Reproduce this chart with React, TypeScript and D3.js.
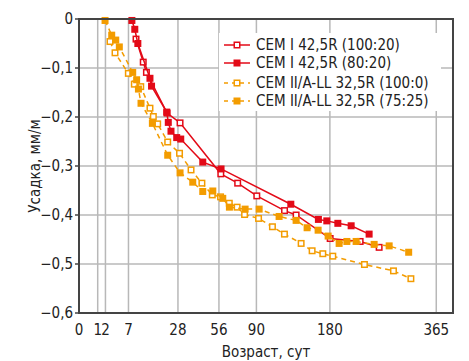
import React from "react";
import * as d3 from "d3";

const xTicks = [0, 1, 2, 7, 28, 56, 90, 180, 365];
const xGrid = [1, 2, 7, 28, 56, 90, 180, 365];
const yTicks = [0, -0.1, -0.2, -0.3, -0.4, -0.5, -0.6];

const names = [
  "CEM I 42,5R (100:20)",
  "CEM I 42,5R (80:20)",
  "CEM II/A-LL 32,5R (100:0)",
  "CEM II/A-LL 32,5R (75:25)",
];

// [days, shrinkage]
const cemI_100_20: [number, number][] = [
  [9.3, -0.041], [11.8, -0.088], [13.0, -0.109], [22.2, -0.192], [29.2, -0.212],
  [57.5, -0.316], [72.0, -0.335], [90.4, -0.361], [120.8, -0.391], [134.8, -0.4],
  [180.4, -0.448], [226, -0.454], [257.6, -0.466],
];
const cemI_80_20: [number, number][] = [
  [8, -0.003], [8.9, -0.021], [9.9, -0.05], [14.4, -0.121], [15.05, -0.137],
  [22.0, -0.19], [22.8, -0.211], [24.2, -0.229], [27.3, -0.242], [29.6, -0.245],
  [43.8, -0.292], [57.7, -0.306], [128.3, -0.378], [163.9, -0.409], [175.6, -0.412],
  [191.6, -0.417], [211.8, -0.422], [240.7, -0.439],
];
const cemII_100_0: [number, number][] = [
  [2.75, -0.046], [3.71, -0.069], [6.96, -0.111], [8.75, -0.133], [10.9, -0.138],
  [14.4, -0.182], [15.8, -0.199], [17.7, -0.214], [22.5, -0.251], [28.9, -0.274],
  [35.9, -0.308], [43.2, -0.335], [50.8, -0.359], [57.3, -0.363], [64.6, -0.376],
  [71.5, -0.384], [78.4, -0.399], [92.2, -0.407], [107, -0.424], [120.7, -0.439],
  [141.1, -0.458], [155.4, -0.473], [170, -0.479], [184.2, -0.484], [233, -0.501],
  [282.8, -0.514], [315, -0.53],
];
const cemII_75_25: [number, number][] = [
  [1.94, -0.003], [3.06, -0.033], [3.86, -0.043], [4.65, -0.057], [8.25, -0.109],
  [9.5, -0.124], [10.1, -0.143], [11.0, -0.172], [15.4, -0.213], [22.5, -0.278],
  [29.2, -0.314], [37.0, -0.333], [43.8, -0.352], [51.2, -0.351], [59.1, -0.366],
  [64.7, -0.384], [78.9, -0.388], [92.8, -0.388], [114.5, -0.403], [134.8, -0.411],
  [148.8, -0.426], [163.5, -0.431], [177.5, -0.443], [193.5, -0.458], [205.2, -0.454],
  [219.6, -0.454], [249.1, -0.46], [275.1, -0.463], [310.8, -0.476],
];

const RED = "#e30a17";
const ORANGE = "#f39c00";

const series = [
  { name: names[0], data: cemI_100_20, color: RED, open: true, dash: null },
  { name: names[1], data: cemI_80_20, color: RED, open: false, dash: null },
  { name: names[2], data: cemII_100_0, color: ORANGE, open: true, dash: "5,4" },
  { name: names[3], data: cemII_75_25, color: ORANGE, open: false, dash: "5,4" },
];

const W = 469;
const H = 361;
const font = "'Liberation Sans Narrow', 'DejaVu Sans Condensed', 'Roboto Condensed', 'Liberation Sans', sans-serif";

export default function App() {
  const x = d3.scaleSqrt().domain([0, 400]).range([79, 453]);
  const y = d3.scaleLinear().domain([0, -0.6]).range([19, 313]);
  const line = d3
    .line<[number, number]>()
    .x((d) => x(d[0]))
    .y((d) => y(d[1]));
  const ms = 7;

  const marker = (cx: number, cy: number, s: (typeof series)[number], key: string | number) =>
    s.open ? (
      <rect key={key} x={cx - ms / 2 + 0.75} y={cy - ms / 2 + 0.75} width={ms - 1.5} height={ms - 1.5}
        fill="#fff" stroke={s.color} strokeWidth={1.5} />
    ) : (
      <rect key={key} x={cx - ms / 2} y={cy - ms / 2} width={ms} height={ms} fill={s.color} />
    );

  return (
    <div style={{ position: "absolute", left: 0, top: 0 }}>
      <svg width={W} height={H} style={{ display: "block", background: "#fff" }} fontFamily={font}>
        {/* grid */}
        {xGrid.map((t) => (
          <line key={"gx" + t} x1={x(t)} x2={x(t)} y1={y(0)} y2={y(-0.6)} stroke="#b8b8b8" strokeWidth={1.5} />
        ))}
        {yTicks.slice(1, -1).map((t) => (
          <line key={"gy" + t} x1={x(0)} x2={x(400)} y1={y(t)} y2={y(t)} stroke="#b8b8b8" strokeWidth={1.5} />
        ))}

        {/* legend background */}
        <rect x={219} y={33} width={222} height={78} fill="#fff" />

        {/* series */}
        {series.map((s, i) => (
          <g key={"s" + i}>
            <path d={line(s.data) || ""} fill="none" stroke={s.color} strokeWidth={1.5}
              strokeDasharray={s.dash || undefined} />
            {s.data.map((d, j) => marker(x(d[0]), y(d[1]), s, j))}
          </g>
        ))}

        {/* frame */}
        <rect x={x(0)} y={y(0)} width={x(400) - x(0)} height={y(-0.6) - y(0)} fill="none" stroke="#444" strokeWidth={2} />

        {/* y ticks */}
        {yTicks.map((t) => (
          <g key={"yt" + t}>
            <line x1={x(0) - 4} x2={x(0)} y1={y(t)} y2={y(t)} stroke="#444" strokeWidth={1.5} />
            <text x={x(0) - 6} y={y(t)} dy="0.36em" textAnchor="end" fontSize={15} fill="#222">
              {t === 0 ? "0" : "\u2212" + d3.format(".1f")(-t).replace(".", ",")}
            </text>
          </g>
        ))}

        {/* x ticks */}
        {xTicks.map((t) => (
          <text key={"xt" + t} x={x(t)} y={335} textAnchor="middle" fontSize={15} fill="#222">
            {t}
          </text>
        ))}

        <text x={266} y={357} textAnchor="middle" fontSize={15} fill="#222">Возраст, сут</text>
        <text transform={`translate(40,${y(-0.3)}) rotate(-90)`} textAnchor="middle" fontSize={15} fill="#222">
          Усадка, мм/м
        </text>

        {/* legend */}
        {series.map((s, i) => {
          const ly = [45, 63, 83, 101][i];
          return (
            <g key={"lg" + i}>
              <line x1={224} x2={250} y1={ly} y2={ly} stroke={s.color} strokeWidth={1.5}
                strokeDasharray={s.dash ? "4,4" : undefined} />
              {marker(237, ly, s, "m")}
              <text x={256} y={ly} dy="0.36em" fontSize={15} fill="#222">{s.name}</text>
            </g>
          );
        })}
      </svg>
    </div>
  );
}
